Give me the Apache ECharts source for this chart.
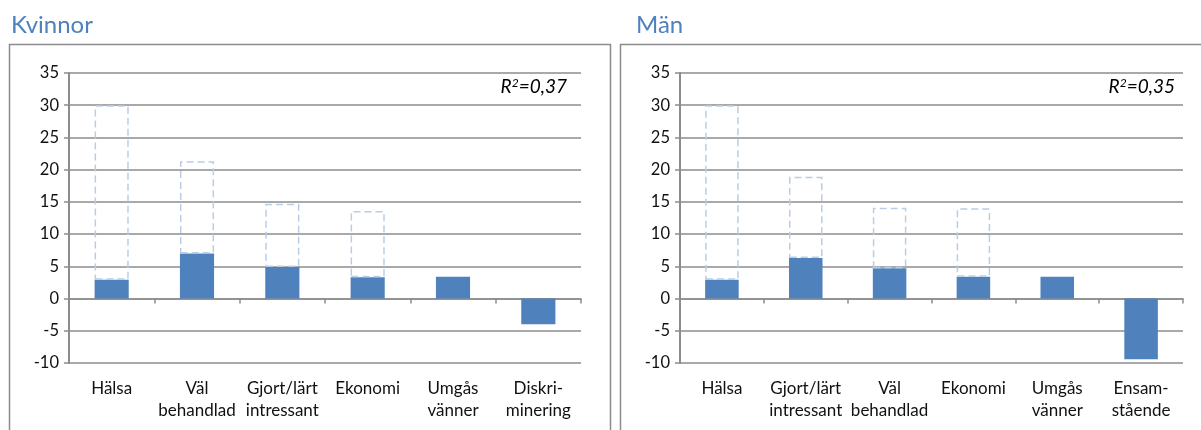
<!DOCTYPE html>
<html>
<head>
<meta charset="utf-8">
<script src="https://cdn.jsdelivr.net/npm/echarts@6/dist/echarts.min.js"></script>
<style>
  html, body { margin: 0; padding: 0; background: #fff; }
  #chart { width: 1201px; height: 430px; }
</style>
</head>
<body>
<div id="chart"></div>
<script>
// Kvinnor
var catsKvinnor = ['Hälsa', 'Väl\nbehandlad', 'Gjort/lärt\nintressant', 'Ekonomi', 'Umgås\nvänner', 'Diskri-\nminering'];
var effectKvinnor = [2.9, 7.0, 4.9, 3.3, 3.4, -4.0];
var totalKvinnor = [30, 21.3, 14.7, 13.6, null, null];
// Män
var catsMan = ['Hälsa', 'Gjort/lärt\nintressant', 'Väl\nbehandlad', 'Ekonomi', 'Umgås\nvänner', 'Ensam-\nstående'];
var effectMan = [2.9, 6.3, 4.7, 3.4, 3.4, -9.4];
var totalMan = [30, 18.9, 14.1, 14.0, null, null];

var yTicks = { min: -10, max: 35, interval: 5 };
var r2Kvinnor = '0,37';
var r2Man = '0,35';

var FONT = 'Lato';
var GRID_COLOR = '#8c8c8c';
var BAR_COLOR = '#4f81bd';
var DASH_COLOR = '#b9cde5';

function rest(effect, total) {
  return total.map(function (t, i) {
    return t == null ? '-' : +(t - effect[i]).toFixed(2);
  });
}

function yAxis(grid) {
  return {
    type: 'value', gridIndex: grid,
    min: yTicks.min, max: yTicks.max, interval: yTicks.interval,
    axisLine: { show: true, lineStyle: { color: GRID_COLOR, width: 2 } },
    axisTick: { show: true, length: 5, lineStyle: { color: GRID_COLOR, width: 1.5 } },
    splitLine: { lineStyle: { color: GRID_COLOR, width: 1.5 } },
    axisLabel: { fontFamily: FONT, fontSize: 16.5, color: '#111', margin: 10 }
  };
}

function xAxes(grid, cats) {
  return [
    // labels along the bottom
    {
      type: 'category', gridIndex: grid, data: cats, position: 'bottom',
      axisLine: { show: false, onZero: false }, axisTick: { show: false },
      axisLabel: { fontFamily: FONT, fontSize: 17, color: '#111', margin: 15, lineHeight: 22, interval: 0 }
    },
    // line + ticks at zero
    {
      type: 'category', gridIndex: grid, data: cats, position: 'top',
      axisLine: { show: true, onZero: true, lineStyle: { color: GRID_COLOR, width: 1.5 } },
      axisTick: { show: true, inside: true, length: 5, lineStyle: { color: GRID_COLOR, width: 1.5 } },
      axisLabel: { show: false }
    }
  ];
}

function bars(xi, yi, effect, total, stack) {
  return [
    {
      type: 'bar', xAxisIndex: xi, yAxisIndex: yi, stack: stack, barWidth: '40%',
      data: effect, itemStyle: { color: BAR_COLOR }, silent: true
    },
    {
      type: 'bar', xAxisIndex: xi, yAxisIndex: yi, stack: stack,
      data: rest(effect, total),
      itemStyle: { color: 'rgba(0,0,0,0)', borderColor: DASH_COLOR, borderWidth: 1.5, borderType: [7, 4] },
      silent: true
    }
  ];
}

function r2Text(x, val) {
  return {
    type: 'text', right: x, top: 77,
    style: {
      text: '{i|R}{s|2}{i|=' + val + '}',
      rich: {
        i: { fontFamily: FONT, fontStyle: 'italic', fontSize: 19, fill: '#000' },
        s: { fontFamily: FONT, fontStyle: 'italic', fontSize: 12, fill: '#000', verticalAlign: 'top', padding: [0, 0, 8, 0] }
      }
    }
  };
}

var chart = echarts.init(document.getElementById('chart'), null, { renderer: 'canvas' });
chart.setOption({
  animation: false,
  backgroundColor: '#fff',
  title: [
    { text: 'Kvinnor', left: 6, top: 8, textStyle: { fontFamily: FONT, fontSize: 24, fontWeight: 'normal', color: '#4f81bd' } },
    { text: 'Män', left: 631, top: 8, textStyle: { fontFamily: FONT, fontSize: 24, fontWeight: 'normal', color: '#4f81bd' } }
  ],
  grid: [
    { left: 69, right: 620, top: 73, bottom: 67 },
    { left: 680, right: 18, top: 73, bottom: 67 }
  ],
  xAxis: xAxes(0, catsKvinnor).concat(xAxes(1, catsMan)),
  yAxis: [yAxis(0), yAxis(1)],
  series: bars(0, 0, effectKvinnor, totalKvinnor, 'k').concat(bars(2, 1, effectMan, totalMan, 'm')),
  graphic: [
    { type: 'rect', shape: { x: 9.5, y: 44.5, width: 601, height: 420 }, style: { fill: 'none', stroke: '#8c8c8c', lineWidth: 1.5 }, silent: true },
    { type: 'rect', shape: { x: 620.5, y: 44.5, width: 620, height: 420 }, style: { fill: 'none', stroke: '#8c8c8c', lineWidth: 1.5 }, silent: true },
    r2Text(634, r2Kvinnor),
    r2Text(26, r2Man)
  ]
});
</script>
</body>
</html>
